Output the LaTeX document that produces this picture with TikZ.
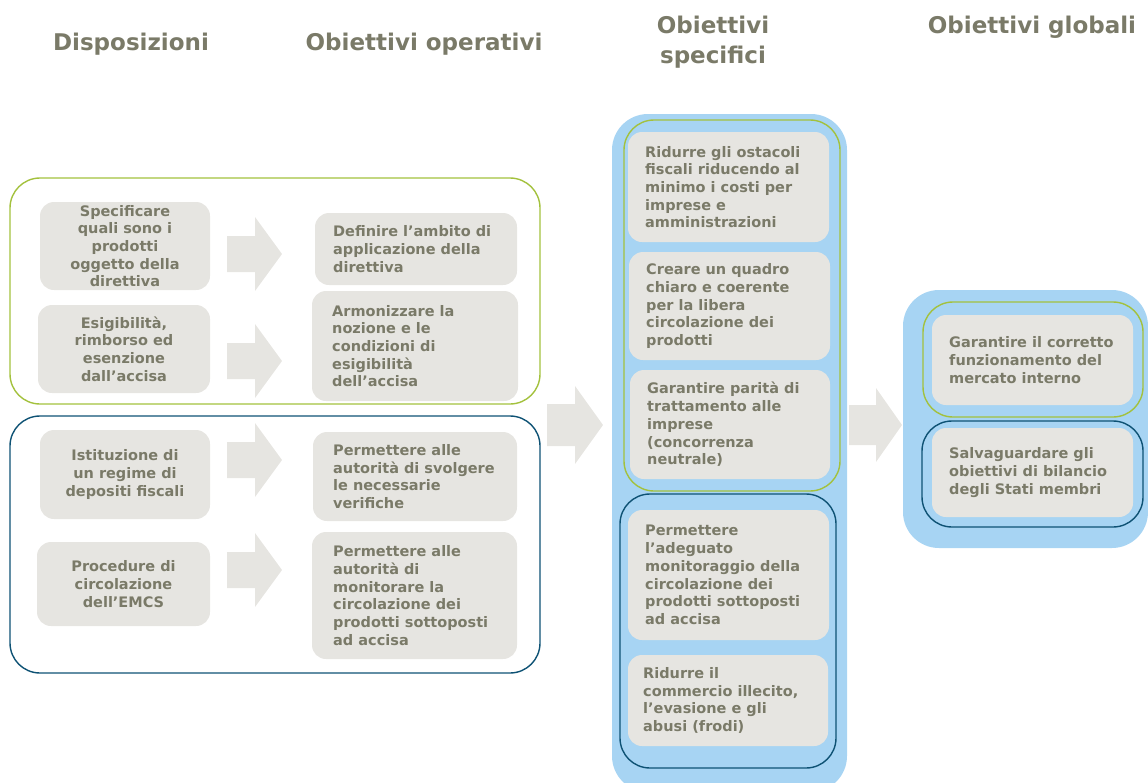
\documentclass[tikz,border=0pt]{standalone}
\usepackage{fontspec}
\setmainfont{DejaVu Sans}
\definecolor{txt}{RGB}{122,122,104}
\definecolor{boxfill}{RGB}{230,229,225}
\definecolor{grn}{RGB}{163,193,61}
\definecolor{dblue}{RGB}{14,82,116}
\definecolor{lblue}{RGB}{167,212,243}
\tikzset{
  pbox/.style={fill=boxfill, draw=none, rounded corners=14pt, inner sep=0pt, outer sep=0pt},
  ptxt/.style={text=txt, inner sep=0pt, font=\fontsize{14.5pt}{17.7pt}\selectfont\bfseries},
  lt/.style={ptxt, align=left, anchor=west},
  ct/.style={ptxt, align=center, anchor=center},
  htxt/.style={text=txt, inner sep=0pt, align=center, font=\fontsize{23pt}{30pt}\selectfont\bfseries},
  grpG/.style={draw=grn, line width=1.4pt, rounded corners=30pt},
  grpB/.style={draw=dblue, line width=1.4pt, rounded corners=30pt},
  bgblue/.style={fill=lblue, rounded corners=36pt},
  arrowfill/.style={fill=boxfill}
}
\newcommand{\barrow}[6]{\fill[arrowfill] (#1,#4-#5) -- (#2,#4-#5) -- (#2,#4-#6) -- (#3,#4) -- (#2,#4+#6) -- (#2,#4+#5) -- (#1,#4+#5) -- cycle;}
% box: name, x, y, w, h
\newcommand{\pb}[5]{\node[pbox, anchor=north west, minimum width=#4pt, minimum height=#5pt] (#1) at (#2,#3) {};}
\begin{document}
\begin{tikzpicture}[x=1pt,y=-1pt]
\useasboundingbox (0,0) rectangle (1148,782);

% headers
\node[htxt] (h1) at (131,44) {Disposizioni};
\node[htxt] (h2) at (424,44) {Obiettivi operativi};
\node[htxt] (h3) at (713,42) {Obiettivi\\specifici};
\node[htxt] (h4) at (1032,27) {Obiettivi globali};

% left groups
\draw[grpG] (10,178) rectangle (540,404);
\draw[grpB] (10,416) rectangle (540,673);

% left boxes
\pb{b1}{40}{202}{170}{88}
\pb{b2}{38}{305}{172}{88}
\pb{b3}{40}{430}{170}{89}
\pb{b4}{37}{542}{173}{84}
\node[ct] (tb1) at (b1.center) {Specificare\\quali sono i\\prodotti\\oggetto della\\direttiva};
\node[ct] (tb2) at (b2.center) {Esigibilità,\\rimborso ed\\esenzione\\dall’accisa};
\node[ct] (tb3) at (b3.center) {Istituzione di\\un regime di\\depositi fiscali};
\node[ct] (tb4) at (b4.center) {Procedure di\\circolazione\\dell’EMCS};

% operative boxes
\pb{r1}{315}{213}{202}{72}
\pb{r2}{312}{291}{206}{110}
\pb{r3}{313}{432}{204}{89}
\pb{r4}{312}{532}{205}{127}
\node[lt] (tr1) at ([xshift=18pt]r1.west) {Definire l’ambito di\\applicazione della\\direttiva};
\node[lt] (tr2) at ([xshift=20pt]r2.west) {Armonizzare la\\nozione e le\\condizioni di\\esigibilità\\dell’accisa};
\node[lt] (tr3) at ([xshift=20pt]r3.west) {Permettere alle\\autorità di svolgere\\le necessarie\\verifiche};
\node[lt] (tr4) at ([xshift=21pt]r4.west) {Permettere alle\\autorità di\\monitorare la\\circolazione dei\\prodotti sottoposti\\ad accisa};

% left arrows
\barrow{227}{255}{282}{254}{18}{37}
\barrow{227}{255}{282}{361}{18}{37}
\barrow{227}{255}{282}{460}{18}{37}
\barrow{227}{255}{282}{570}{18}{37}

% middle arrow
\barrow{547}{575}{603}{425}{21}{39}

% middle column
\fill[bgblue] (612,114) rectangle (847,792);
\draw[grpG] (624,120) rectangle (840,491);
\draw[grpB] (620,494) rectangle (836,768);
\pb{m1}{628}{132}{201}{110}
\pb{m2}{629}{252}{201}{108}
\pb{m3}{630}{370}{200}{109}
\pb{m4}{628}{510}{201}{130}
\pb{m5}{628}{655}{200}{91}
\node[lt] (tm1) at ([xshift=17pt]m1.west) {Ridurre gli ostacoli\\fiscali riducendo al\\minimo i costi per\\imprese e\\amministrazioni};
\node[lt] (tm2) at ([xshift=17pt]m2.west) {Creare un quadro\\chiaro e coerente\\per la libera\\circolazione dei\\prodotti};
\node[lt] (tm3) at ([xshift=17pt]m3.west) {Garantire parità di\\trattamento alle\\imprese\\(concorrenza\\neutrale)};
\node[lt] (tm4) at ([xshift=17pt]m4.west) {Permettere\\l’adeguato\\monitoraggio della\\circolazione dei\\prodotti sottoposti\\ad accisa};
\node[lt] (tm5) at ([xshift=15pt]m5.west) {Ridurre il\\commercio illecito,\\l’evasione e gli\\abusi (frodi)};

% right arrow
\barrow{849}{876}{902}{425}{20}{37}

% right column
\fill[bgblue] (903,290) rectangle (1148,548);
\draw[grpG] (923,302) rectangle (1143,417);
\draw[grpB] (922,421) rectangle (1143,527);
\pb{g1}{932}{315}{201}{90}
\pb{g2}{932}{428}{201}{89}
\node[lt] (tg1) at ([xshift=17pt]g1.west) {Garantire il corretto\\funzionamento del\\mercato interno};
\node[lt] (tg2) at ([xshift=17pt]g2.west) {Salvaguardare gli\\obiettivi di bilancio\\degli Stati membri};
\end{tikzpicture}
\end{document}
